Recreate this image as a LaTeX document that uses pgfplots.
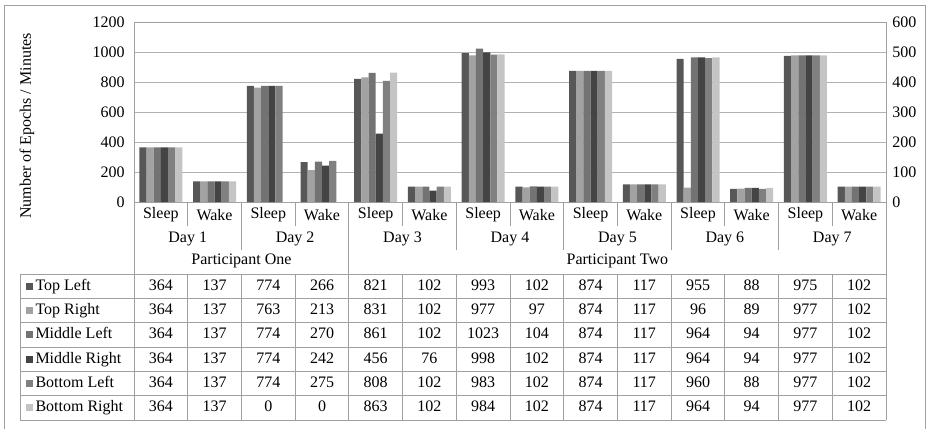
\documentclass[border=0pt]{standalone}
\usepackage{fontspec}
\setmainfont{Liberation Serif}
\usepackage{pgfplots}
\usepackage{pgfplotstable}
\pgfplotsset{compat=1.18}

\definecolor{cTL}{HTML}{575757}
\definecolor{cTR}{HTML}{A2A2A2}
\definecolor{cML}{HTML}{737373}
\definecolor{cMR}{HTML}{444444}
\definecolor{cBL}{HTML}{808080}
\definecolor{cBR}{HTML}{C4C4C4}
\definecolor{lineg}{HTML}{A0A0A0}
\definecolor{gridg}{HTML}{B2B2B2}

% epochs per camera position, one row per category (Sleep/Wake for each day)
\pgfplotstableread{
x  TL  TR  ML   MR  BL  BR
0  364 364 364  364 364 364
1  137 137 137  137 137 137
2  774 763 774  774 774 0
3  266 213 270  242 275 0
4  821 831 861  456 808 863
5  102 102 102  76  102 102
6  993 977 1023 998 983 984
7  102 97  104  102 102 102
8  874 874 874  874 874 874
9  117 117 117  117 117 117
10 955 96  964  964 960 964
11 88  89  94   94  88  94
12 975 977 977  977 977 977
13 102 102 102  102 102 102
}\epochs

\begin{document}
\begin{tikzpicture}[font=\fontsize{12}{14}\selectfont]
\useasboundingbox (0pt,0pt) rectangle (694.5pt,-321.75pt);

\begin{axis}[
  at={(100.5pt,-151.5pt)}, anchor=south west,
  scale only axis, width=564pt, height=135pt,
  ybar=0pt, bar width=5.375pt,
  xmin=-0.5, xmax=13.5, ymin=0, ymax=1200,
  ytick={0,200,...,1200}, xtick=\empty,
  ymajorgrids, grid style={draw=gridg, line width=0.75pt},
  axis line style={draw=lineg, line width=0.75pt},
  major tick length=0pt,
  tick label style={font=\fontsize{12}{14}\selectfont},
  /pgf/number format/assume math mode=true,
  /pgf/number format/1000 sep={},
  yticklabel style={xshift=-3.5pt},
]
\addplot[fill=cTL, draw=none] table[x=x, y=TL] {\epochs};
\addplot[fill=cTR, draw=none] table[x=x, y=TR] {\epochs};
\addplot[fill=cML, draw=none] table[x=x, y=ML] {\epochs};
\addplot[fill=cMR, draw=none] table[x=x, y=MR] {\epochs};
\addplot[fill=cBL, draw=none] table[x=x, y=BL] {\epochs};
\addplot[fill=cBR, draw=none] table[x=x, y=BR] {\epochs};
\end{axis}

\begin{axis}[
  at={(100.5pt,-151.5pt)}, anchor=south west,
  scale only axis, width=564pt, height=135pt,
  xmin=-0.5, xmax=13.5, ymin=0, ymax=600,
  ytick={0,100,...,600},
  axis y line*=right, axis x line=none,
  axis line style={draw=lineg, line width=0.75pt},
  major tick length=0pt,
  tick label style={font=\fontsize{12}{14}\selectfont},
  /pgf/number format/assume math mode=true,
  /pgf/number format/1000 sep={},
  yticklabel style={xshift=1.25pt},
]
\addplot[draw=none] coordinates {(0,0)};
\end{axis}

\begin{scope}[x=0.75pt, y=-0.75pt, line width=0.75pt]
  % outer frame
  \draw[lineg] (4,432) -- (4,5) -- (925,5) -- (925,432);
  % axis title
  \node[rotate=90] at (27,126) {Number of Epochs / Minutes};

  % category label dividers
  \foreach \k in {1,3,...,13} \draw[lineg] ({134+\k*53.714},202) -- ++(0,24);
  \foreach \k in {2,6,8,10,12} \draw[lineg] ({134+\k*53.714},202) -- ++(0,48);
  \foreach \k in {0,4,14} \draw[lineg] ({134+\k*53.714},202) -- (134+\k*53.714,274);

  % category labels
  \foreach \k in {0,2,...,12} {
    \node at ({134+(\k+0.5)*53.714},215) {Sleep};
    \node at ({134+(\k+1.5)*53.714},215) {Wake};
  }
  \foreach \d in {1,...,7}
    \node at ({134+(2*\d-1)*53.714},238.5) {Day \d};
  \node at ({134+2*53.714},261) {Participant One};
  \node at ({134+9*53.714},261) {Participant Two};

  % data table grid
  \foreach \r in {0,...,6} \draw[lineg] (20,{274+\r*24.333}) -- (886,{274+\r*24.333});
  \draw[lineg] (20,274) -- (20,420);
  \foreach \k in {0,...,14} \draw[lineg] ({134+\k*53.714},274) -- ({134+\k*53.714},420);

  % row headers with colour keys
  \foreach \name/\col [count=\i from 0] in {Top Left/cTL, Top Right/cTR, Middle Left/cML,
      Middle Right/cMR, Bottom Left/cBL, Bottom Right/cBR} {
    \fill[\col] (26,{274+(\i+0.5)*24.333-3.5}) rectangle ++(7,7);
    \node[anchor=base west, inner sep=0pt] at (35,{274+(\i+0.5)*24.333+4}) {\name};
  }

  % table values
  \foreach \c [count=\ci from 0] in {TL,TR,ML,MR,BL,BR} {
    \foreach \k in {0,...,13} {
      \pgfplotstablegetelem{\k}{\c}\of\epochs
      \node[anchor=base] at ({134+(\k+0.5)*53.714},{274+(\ci+0.5)*24.333+4}) {\pgfplotsretval};
    }
  }
\end{scope}
\end{tikzpicture}
\end{document}
